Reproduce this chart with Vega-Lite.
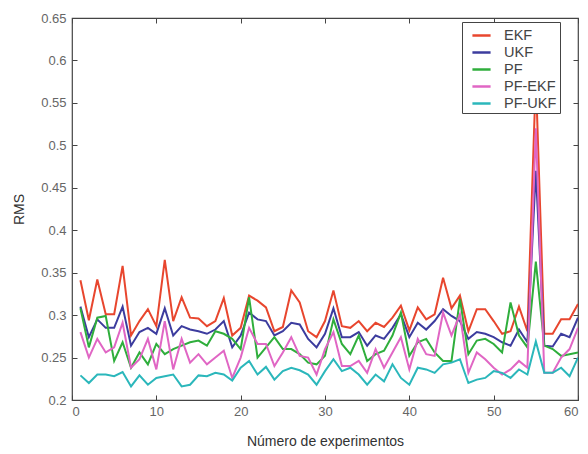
{
  "$schema": "https://vega.github.io/schema/vega-lite/v6.json",
  "width": 506,
  "height": 382,
  "padding": {"left": 72, "top": 18, "right": 10, "bottom": 54},
  "autosize": {"type": "none"},
  "background": "white",
  "config": {
    "font": "Liberation Sans",
    "view": {"stroke": "#444", "strokeWidth": 1.2},
    "axis": {
      "grid": false,
      "domain": false,
      "tickColor": "#444",
      "tickSize": -5,
      "labelColor": "#666",
      "labelFontSize": 13,
      "titleFontSize": 14,
      "titleFontWeight": "normal",
      "titleColor": "#333",
      "labelFont": "Liberation Sans",
      "titleFont": "Liberation Sans"
    }
  },
  "data": {
    "values": [
      {"n":1,"EKF":0.341,"UKF":0.31,"PF":0.308,"PF-EKF":0.28,"PF-UKF":0.229},
      {"n":2,"EKF":0.294,"UKF":0.274,"PF":0.262,"PF-EKF":0.25,"PF-UKF":0.22},
      {"n":3,"EKF":0.342,"UKF":0.295,"PF":0.297,"PF-EKF":0.272,"PF-UKF":0.23},
      {"n":4,"EKF":0.301,"UKF":0.285,"PF":0.299,"PF-EKF":0.256,"PF-UKF":0.23},
      {"n":5,"EKF":0.301,"UKF":0.285,"PF":0.246,"PF-EKF":0.262,"PF-UKF":0.228},
      {"n":6,"EKF":0.358,"UKF":0.31,"PF":0.268,"PF-EKF":0.291,"PF-UKF":0.233},
      {"n":7,"EKF":0.276,"UKF":0.264,"PF":0.238,"PF-EKF":0.238,"PF-UKF":0.216},
      {"n":8,"EKF":0.293,"UKF":0.28,"PF":0.256,"PF-EKF":0.248,"PF-UKF":0.229},
      {"n":9,"EKF":0.307,"UKF":0.285,"PF":0.242,"PF-EKF":0.272,"PF-UKF":0.218},
      {"n":10,"EKF":0.287,"UKF":0.278,"PF":0.266,"PF-EKF":0.236,"PF-UKF":0.226},
      {"n":11,"EKF":0.365,"UKF":0.308,"PF":0.254,"PF-EKF":0.293,"PF-UKF":0.228},
      {"n":12,"EKF":0.293,"UKF":0.276,"PF":0.26,"PF-EKF":0.236,"PF-UKF":0.23},
      {"n":13,"EKF":0.321,"UKF":0.287,"PF":0.264,"PF-EKF":0.272,"PF-UKF":0.216},
      {"n":14,"EKF":0.297,"UKF":0.283,"PF":0.268,"PF-EKF":0.244,"PF-UKF":0.218},
      {"n":15,"EKF":0.296,"UKF":0.281,"PF":0.27,"PF-EKF":0.254,"PF-UKF":0.229},
      {"n":16,"EKF":0.287,"UKF":0.278,"PF":0.264,"PF-EKF":0.242,"PF-UKF":0.228},
      {"n":17,"EKF":0.293,"UKF":0.283,"PF":0.281,"PF-EKF":0.25,"PF-UKF":0.232},
      {"n":18,"EKF":0.32,"UKF":0.293,"PF":0.278,"PF-EKF":0.258,"PF-UKF":0.23},
      {"n":19,"EKF":0.276,"UKF":0.262,"PF":0.272,"PF-EKF":0.226,"PF-UKF":0.223},
      {"n":20,"EKF":0.285,"UKF":0.276,"PF":0.26,"PF-EKF":0.25,"PF-UKF":0.238},
      {"n":21,"EKF":0.323,"UKF":0.303,"PF":0.321,"PF-EKF":0.285,"PF-UKF":0.246},
      {"n":22,"EKF":0.317,"UKF":0.295,"PF":0.25,"PF-EKF":0.266,"PF-UKF":0.23},
      {"n":23,"EKF":0.309,"UKF":0.293,"PF":0.262,"PF-EKF":0.266,"PF-UKF":0.239},
      {"n":24,"EKF":0.281,"UKF":0.276,"PF":0.274,"PF-EKF":0.24,"PF-UKF":0.224},
      {"n":25,"EKF":0.286,"UKF":0.281,"PF":0.26,"PF-EKF":0.256,"PF-UKF":0.234},
      {"n":26,"EKF":0.329,"UKF":0.291,"PF":0.26,"PF-EKF":0.274,"PF-UKF":0.238},
      {"n":27,"EKF":0.315,"UKF":0.289,"PF":0.254,"PF-EKF":0.252,"PF-UKF":0.235},
      {"n":28,"EKF":0.281,"UKF":0.272,"PF":0.244,"PF-EKF":0.25,"PF-UKF":0.23},
      {"n":29,"EKF":0.274,"UKF":0.262,"PF":0.242,"PF-EKF":0.23,"PF-UKF":0.218},
      {"n":30,"EKF":0.293,"UKF":0.278,"PF":0.252,"PF-EKF":0.26,"PF-UKF":0.234},
      {"n":31,"EKF":0.329,"UKF":0.308,"PF":0.295,"PF-EKF":0.28,"PF-UKF":0.248},
      {"n":32,"EKF":0.287,"UKF":0.274,"PF":0.266,"PF-EKF":0.24,"PF-UKF":0.234},
      {"n":33,"EKF":0.285,"UKF":0.274,"PF":0.254,"PF-EKF":0.24,"PF-UKF":0.238},
      {"n":34,"EKF":0.293,"UKF":0.28,"PF":0.276,"PF-EKF":0.246,"PF-UKF":0.23},
      {"n":35,"EKF":0.281,"UKF":0.264,"PF":0.246,"PF-EKF":0.232,"PF-UKF":0.218},
      {"n":36,"EKF":0.291,"UKF":0.276,"PF":0.254,"PF-EKF":0.26,"PF-UKF":0.23},
      {"n":37,"EKF":0.286,"UKF":0.272,"PF":0.258,"PF-EKF":0.238,"PF-UKF":0.222},
      {"n":38,"EKF":0.297,"UKF":0.285,"PF":0.276,"PF-EKF":0.256,"PF-UKF":0.242},
      {"n":39,"EKF":0.311,"UKF":0.301,"PF":0.303,"PF-EKF":0.274,"PF-UKF":0.226},
      {"n":40,"EKF":0.282,"UKF":0.274,"PF":0.252,"PF-EKF":0.236,"PF-UKF":0.218},
      {"n":41,"EKF":0.309,"UKF":0.291,"PF":0.268,"PF-EKF":0.272,"PF-UKF":0.238},
      {"n":42,"EKF":0.295,"UKF":0.283,"PF":0.272,"PF-EKF":0.254,"PF-UKF":0.236},
      {"n":43,"EKF":0.301,"UKF":0.293,"PF":0.256,"PF-EKF":0.252,"PF-UKF":0.232},
      {"n":44,"EKF":0.344,"UKF":0.307,"PF":0.246,"PF-EKF":0.303,"PF-UKF":0.242},
      {"n":45,"EKF":0.308,"UKF":0.299,"PF":0.246,"PF-EKF":0.276,"PF-UKF":0.244},
      {"n":46,"EKF":0.323,"UKF":0.293,"PF":0.319,"PF-EKF":0.301,"PF-UKF":0.248},
      {"n":47,"EKF":0.281,"UKF":0.272,"PF":0.254,"PF-EKF":0.232,"PF-UKF":0.22},
      {"n":48,"EKF":0.307,"UKF":0.28,"PF":0.27,"PF-EKF":0.256,"PF-UKF":0.224},
      {"n":49,"EKF":0.307,"UKF":0.278,"PF":0.272,"PF-EKF":0.248,"PF-UKF":0.226},
      {"n":50,"EKF":0.293,"UKF":0.274,"PF":0.266,"PF-EKF":0.238,"PF-UKF":0.234},
      {"n":51,"EKF":0.278,"UKF":0.268,"PF":0.256,"PF-EKF":0.23,"PF-UKF":0.232},
      {"n":52,"EKF":0.281,"UKF":0.264,"PF":0.315,"PF-EKF":0.236,"PF-UKF":0.226},
      {"n":53,"EKF":0.31,"UKF":0.283,"PF":0.276,"PF-EKF":0.246,"PF-UKF":0.236},
      {"n":54,"EKF":0.281,"UKF":0.268,"PF":0.262,"PF-EKF":0.238,"PF-UKF":0.23},
      {"n":55,"EKF":0.58,"UKF":0.47,"PF":0.363,"PF-EKF":0.52,"PF-UKF":0.269},
      {"n":56,"EKF":0.278,"UKF":0.264,"PF":0.264,"PF-EKF":0.232,"PF-UKF":0.232},
      {"n":57,"EKF":0.278,"UKF":0.263,"PF":0.26,"PF-EKF":0.232,"PF-UKF":0.232},
      {"n":58,"EKF":0.295,"UKF":0.278,"PF":0.252,"PF-EKF":0.25,"PF-UKF":0.238},
      {"n":59,"EKF":0.295,"UKF":0.274,"PF":0.254,"PF-EKF":0.26,"PF-UKF":0.228},
      {"n":60,"EKF":0.313,"UKF":0.297,"PF":0.256,"PF-EKF":0.285,"PF-UKF":0.25}
    ]
  },
  "transform": [
    {"fold": ["EKF", "UKF", "PF", "PF-EKF", "PF-UKF"], "as": ["filtro", "rms"]}
  ],
  "layer": [
    {
      "mark": {"type": "line", "strokeWidth": 2, "clip": true},
      "encoding": {
        "x": {
          "field": "n", "type": "quantitative",
          "scale": {"domain": [0, 60], "nice": false, "zero": false},
          "axis": {"values": [0, 10, 20, 30, 40, 50, 60], "title": "Número de experimentos", "labelPadding": 10, "titlePadding": 16}
        },
        "y": {
          "field": "rms", "type": "quantitative",
          "scale": {"domain": [0.2, 0.65], "nice": false, "zero": false},
          "axis": {"values": [0.2, 0.25, 0.3, 0.35, 0.4, 0.45, 0.5, 0.55, 0.6, 0.65], "format": ".2~f", "title": "RMS", "labelPadding": 11, "titlePadding": 14}
        },
        "color": {
          "field": "filtro", "type": "nominal",
          "scale": {
            "domain": ["EKF", "UKF", "PF", "PF-EKF", "PF-UKF"],
            "range": ["#e8462e", "#3c3c9e", "#2fae3c", "#e066c4", "#2bb7bb"]
          },
          "legend": {
            "title": null,
            "orient": "none",
            "legendX": 390,
            "legendY": 4,
            "symbolType": "stroke",
            "symbolSize": 330,
            "symbolStrokeWidth": 2.5,
            "symbolOffset": 6,
            "labelFontSize": 14.5,
            "labelColor": "#444",
            "labelOffset": 12,
            "rowPadding": 0,
            "fillColor": "white",
            "strokeColor": "#444",
            "padding": 3
          }
        },
        "detail": {"field": "filtro"}
      }
    },
    {
      "mark": {"type": "line", "opacity": 0},
      "encoding": {
        "x": {"field": "n", "type": "quantitative", "axis": {"orient": "top", "values": [0, 10, 20, 30, 40, 50, 60], "labels": false, "title": null}},
        "y": {"field": "rms", "type": "quantitative", "axis": {"orient": "right", "values": [0.2, 0.25, 0.3, 0.35, 0.4, 0.45, 0.5, 0.55, 0.6, 0.65], "labels": false, "title": null}},
        "detail": {"field": "filtro"}
      }
    }
  ],
  "resolve": {"axis": {"x": "independent", "y": "independent"}}
}
